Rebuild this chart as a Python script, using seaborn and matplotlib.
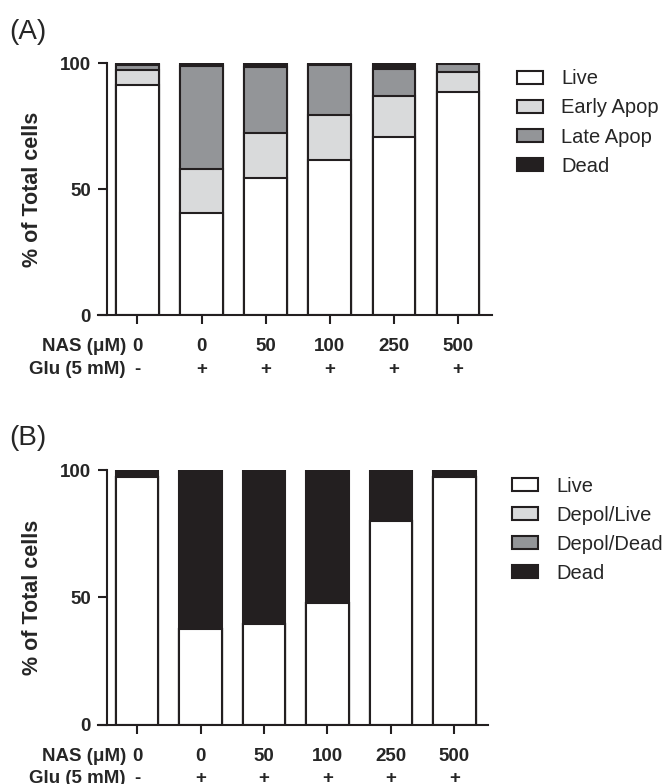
import pandas as pd
import matplotlib.pyplot as plt
from matplotlib.patches import Patch
import seaborn as sns

# conditions shared by both panels
nas = ["0", "0", "50", "100", "250", "500"]
glu = ["-", "+", "+", "+", "+", "+"]

# panel A: annexin / PI
a_labels = ["Live", "Early Apop", "Late Apop", "Dead"]
a_live  = [91.4, 40.7, 54.6, 61.4, 70.7, 88.4]
a_early = [6.0, 17.2, 17.7, 18.0, 16.1, 8.0]
a_late  = [1.8, 40.9, 26.1, 19.8, 11.0, 3.1]
a_dead  = [0.8, 1.2, 1.6, 0.8, 2.2, 0.5]

# panel B: mitochondrial depolarisation
b_labels = ["Live", "Depol/Live", "Depol/Dead", "Dead"]
b_live       = [97.1, 37.5, 39.7, 47.9, 80.1, 97.1]
b_depol_live = [0, 0, 0, 0, 0, 0]
b_depol_dead = [0, 0, 0, 0, 0, 0]
b_dead       = [2.9, 62.5, 60.3, 52.1, 19.9, 2.9]

FILLS = ["#ffffff", "#d9dadb", "#939598", "#231f20"]
EDGE = "#231f20"
FS = 13.5

sns.set_style("ticks")
plt.rcParams["font.family"] = ["Liberation Sans", "DejaVu Sans"]
plt.rcParams["axes.linewidth"] = 1.5

fig = plt.figure(figsize=(6.67, 7.84), dpi=100)
ax_a = fig.add_axes([0.160, 0.598, 0.5776, 0.3216])
ax_b = fig.add_axes([0.160, 0.0753, 0.5716, 0.3252])


def stacked(ax, series, labels):
    df = pd.DataFrame({lab: s for lab, s in zip(labels, series)})
    df["cond"] = [f"c{i}" for i in range(len(df))]
    cum = df[labels].cumsum(axis=1)
    # draw tallest layer first, then overdraw the lower ones
    for k in range(len(labels) - 1, -1, -1):
        d = pd.DataFrame({"cond": df["cond"], "top": cum[labels[k]]})
        sns.barplot(data=d, x="cond", y="top", color=FILLS[k],
                    edgecolor=EDGE, linewidth=1.5, width=0.667,
                    saturation=1, errorbar=None, ax=ax)
    ax.set_xlim(-0.48, 5.53)
    ax.set_ylim(0, 100)
    ax.set_yticks([0, 50, 100])
    ax.set_xticks(range(len(nas)))
    ax.set_xticklabels([])
    ax.set_xlabel("")
    ax.set_ylabel("% of Total cells", fontsize=15.5, fontweight="bold",
                  labelpad=12)
    ax.tick_params(axis="both", width=1.5, length=6.5, color=EDGE)
    ax.tick_params(axis="y", pad=5, labelsize=FS)
    for t in ax.get_yticklabels():
        t.set_fontweight("bold")
    sns.despine(ax=ax)
    ax.spines["bottom"].set_bounds(-0.62, 5.53)
    ax.spines["left"].set_color(EDGE)
    ax.spines["bottom"].set_color(EDGE)

    tr = ax.get_xaxis_transform()
    h = ax.get_window_extent().height
    y1 = -31.7 / h
    y2 = -54.0 / h
    for i in range(len(nas)):
        ax.text(i, y1, nas[i], transform=tr, ha="center", va="center",
                fontsize=FS, fontweight="bold")
        ax.text(i, y2, glu[i], transform=tr, ha="center", va="center",
                fontsize=FS, fontweight="bold")
    ax.text(-0.18, y1, "NAS (\u03bcM)", transform=tr, ha="right", va="center",
            fontsize=FS, fontweight="bold")
    ax.text(-0.18, y2, "Glu (5 mM)", transform=tr, ha="right", va="center",
            fontsize=FS, fontweight="bold")


stacked(ax_a, [a_live, a_early, a_late, a_dead], a_labels)
stacked(ax_b, [b_live, b_depol_live, b_depol_dead, b_dead], b_labels)


def legend(labels, anchor):
    handles = [Patch(facecolor=FILLS[k], edgecolor=EDGE, linewidth=1.5,
                     label=labels[k]) for k in range(len(labels))]
    fig.legend(handles=handles, loc="upper left", bbox_to_anchor=anchor,
               frameon=False, fontsize=14.5, handlelength=1.3,
               handleheight=0.6, handletextpad=0.9, labelspacing=0.5,
               borderpad=0, borderaxespad=0)


legend(a_labels, (0.775, 0.9115))
legend(b_labels, (0.767, 0.392))

fig.text(0.042, 1 - 32 / 784, "(A)", fontsize=20, ha="center", va="center")
fig.text(0.042, 1 - 438 / 784, "(B)", fontsize=20, ha="center", va="center")

fig.savefig("out.png", dpi=100)
